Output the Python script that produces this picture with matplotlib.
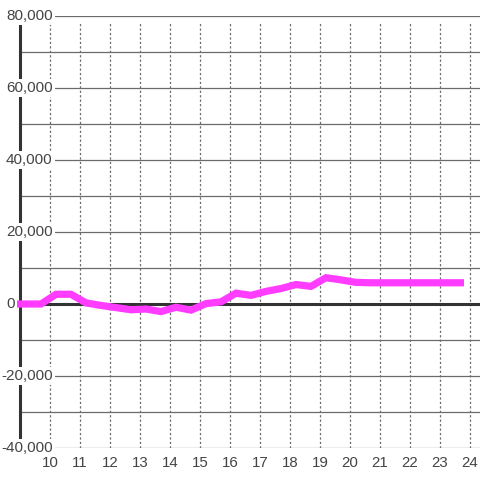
import numpy as np
import matplotlib
matplotlib.use("Agg")
import matplotlib.pyplot as plt

# half-hour samples
hours = [8.9, 9.7, 10.2, 10.7, 11.2, 11.7, 12.2, 12.7, 13.2, 13.7, 14.2, 14.7,
         15.2, 15.7, 16.2, 16.7, 17.2, 17.7, 18.2, 18.7, 19.2, 19.7, 20.2, 20.7,
         21.2, 21.7, 22.2, 22.7, 23.2, 23.8]
values = [0, 0, 2700, 2700, 300, -400, -1000, -1600, -1400, -2100, -900, -1700,
          100, 600, 3000, 2400, 3500, 4300, 5400, 4900, 7300, 6700, 6000, 5900,
          5900, 5900, 5900, 5900, 5900, 5900]

x_ticks = list(range(10, 25))
y_labels = [-40000, -20000, 0, 20000, 40000, 60000, 80000]
y_grid = list(range(-40000, 80001, 10000))

plt.rcParams['font.family'] = ['Liberation Sans', 'DejaVu Sans']
plt.rcParams['lines.scale_dashes'] = False

fig = plt.figure(figsize=(4.8, 4.8), dpi=100)
ax = fig.add_axes([20/480, 32/480, 460/480, 432/480])
ax.set_xlim(9, 9 + 460/30)
ax.set_ylim(-40000, 80000)

for s in ['top', 'right', 'bottom']:
    ax.spines[s].set_visible(False)
ax.spines['left'].set_color('#333333')
ax.spines['left'].set_linewidth(2.2)
ax.spines['left'].set_zorder(1)

ax.hlines(y_grid, 9, 9 + 460/30, color='#6b6b6b', lw=0.9, zorder=0.5)
ax.vlines(x_ticks, -40000, 78000, color='#6b6b6b', lw=0.9,
          linestyles=(0, (1.6, 1.6)), zorder=0.5)
ax.axhline(0, color='#333333', lw=2.2, zorder=1)

ax.plot(hours, values, color='#ff3cff', lw=5.2, solid_joinstyle='miter',
        solid_capstyle='butt', zorder=6, clip_on=False)

ax.set_yticks([])
ax.set_xticks(x_ticks)
ax.set_xticklabels([str(t) for t in x_ticks], fontsize=10.8, color='#444444')
ax.tick_params(axis='x', length=0, pad=6)

# y labels sit left-aligned over the spine, white box hides what is under them
for v in y_labels:
    left = -14/460 if v >= 0 else -18.5/460
    ax.text(left, v, '{:,}'.format(v), transform=ax.get_yaxis_transform(),
            ha='left', va='center', fontsize=11, color='#444444', zorder=5,
            bbox=dict(facecolor='white', edgecolor='none', pad=1.5))

fig.savefig('out.png', dpi=100, facecolor='white')
